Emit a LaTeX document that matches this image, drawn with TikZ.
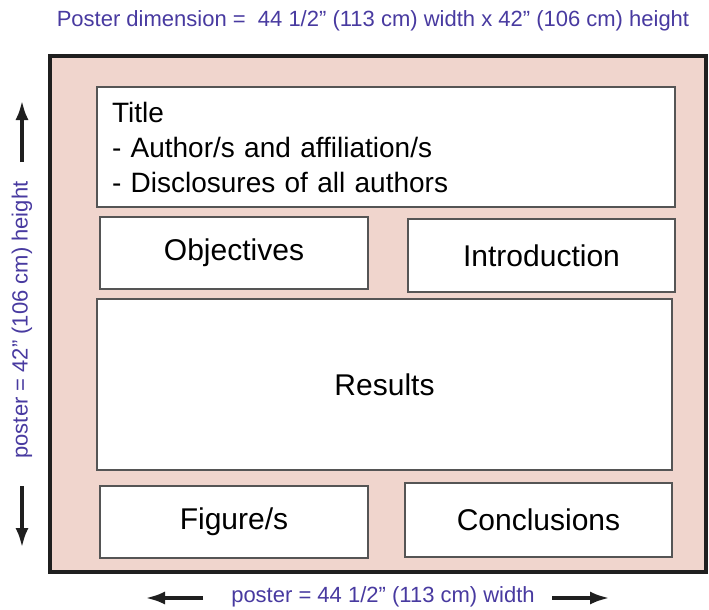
\documentclass[tikz,border=0pt]{standalone}
\usepackage{fontspec}
\setmainfont{Liberation Sans}
\usetikzlibrary{arrows.meta}
\definecolor{posterpink}{RGB}{240,213,205}
\definecolor{dimblue}{RGB}{72,58,160}
\definecolor{boxgray}{RGB}{85,85,85}
\tikzset{
  frame/.style={draw=black!88, line width=4pt, fill=posterpink, inner sep=0pt},
  panel/.style={draw=boxgray, line width=1.4pt, fill=white, inner sep=0pt,
    font=\fontsize{30}{35}\selectfont},
  dimtext/.style={text=dimblue, font=\fontsize{22}{26}\selectfont, inner sep=0pt},
  dimarrow/.style={line width=4pt, black!88, -{Latex[length=20pt,width=13pt]}}
}
\begin{document}
\begin{tikzpicture}[x=1pt,y=-1pt]
  \useasboundingbox (0,0) rectangle (709,610);
  \node[dimtext] (head) at (373,21)
    {Poster dimension =\ \ 44 1/2” (113 cm) width x 42” (106 cm) height};
  \node[frame, minimum width=656pt, minimum height=516pt] (poster) at (378,314) {};
  \node[panel, minimum height=120pt, text width=548pt, inner xsep=15pt, align=left,
    font=\fontsize{28}{35}\selectfont]
    (title) at (386,147)
    {Title\\- Author/s and affiliation/s\\- Disclosures of all authors};
  \node[panel, minimum width=268pt, minimum height=72pt] (obj) at (234,253) {Objectives};
  \node[panel, minimum width=267pt, minimum height=73pt] (intro) at (541.5,255.5) {Introduction};
  \node[panel, minimum width=575pt, minimum height=171pt] (results) at (384.5,384.5) {Results};
  \node[panel, minimum width=268pt, minimum height=72pt] (fig) at (234,522) {Figure/s};
  \node[panel, minimum width=267pt, minimum height=74pt] (concl) at (538.5,520) {Conclusions};
  \node[dimtext, rotate=90] (htext) at (22,320) {poster = 42” (106 cm) height};
  \node[dimtext] (wtext) at (383,597) {poster = 44 1/2” (113 cm) width};
  \coordinate (hup0) at (22,162);
  \coordinate (hup1) at (22,100);
  \coordinate (hdn0) at (22,486);
  \coordinate (hdn1) at (22,548);
  \coordinate (wl0) at (203,598);
  \coordinate (wl1) at (145,598);
  \coordinate (wr0) at (552,598);
  \coordinate (wr1) at (610,598);
  \begin{scope}[dimarrow]
    \draw (hup0) to (hup1);
    \draw (hdn0) to (hdn1);
    \draw (wl0) to (wl1);
    \draw (wr0) to (wr1);
  \end{scope}
\end{tikzpicture}
\end{document}
